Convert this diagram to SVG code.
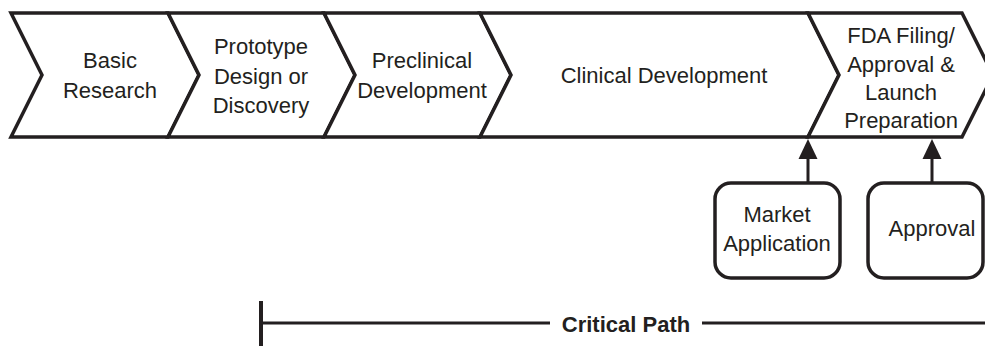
<svg xmlns="http://www.w3.org/2000/svg" width="985" height="346" viewBox="0 0 985 346">
<defs>
<style>
.shape{fill:#fff;stroke:#231f20;stroke-width:3.5;stroke-linejoin:miter}
.t{font-family:"Liberation Sans",Arial,sans-serif;font-size:22px;fill:#231f20;text-anchor:middle}
.b{font-weight:bold}
.ln{stroke:#231f20;stroke-width:3;fill:none}
.head{fill:#231f20}
</style>
</defs>
<rect width="985" height="346" fill="#fff"/>
<g id="basic-research">
<polygon class="shape" points="11,13 168,13 199,75 168,137 11,137 42,75"/>
<text class="t" x="110" y="68">Basic</text>
<text class="t" x="110" y="98">Research</text>
</g>
<g id="prototype">
<polygon class="shape" points="168,13 324,13 355,75 324,137 168,137 199,75"/>
<text class="t" x="261" y="54">Prototype</text>
<text class="t" x="261" y="84">Design or</text>
<text class="t" x="261" y="113">Discovery</text>
</g>
<g id="preclinical">
<polygon class="shape" points="324,13 480,13 511,75 480,137 324,137 355,75"/>
<text class="t" x="422" y="68">Preclinical</text>
<text class="t" x="422" y="98">Development</text>
</g>
<g id="clinical">
<polygon class="shape" points="480,13 808,13 839,75 808,137 480,137 511,75"/>
<text class="t" x="664" y="83">Clinical Development</text>
</g>
<g id="fda-filing">
<polygon class="shape" points="808,13 962,13 993,75 962,137 808,137 839,75"/>
<text class="t" x="901" y="43">FDA Filing/</text>
<text class="t" x="901" y="72">Approval &amp;</text>
<text class="t" x="901" y="100">Launch</text>
<text class="t" x="901" y="128">Preparation</text>
</g>
<g id="market-application">
<rect class="shape" x="715" y="183" width="125" height="95" rx="16"/>
<text class="t" x="777" y="222">Market</text>
<text class="t" x="777" y="251">Application</text>
</g>
<g id="approval">
<rect class="shape" x="868" y="183" width="115" height="95" rx="16"/>
<text class="t" x="932" y="236">Approval</text>
</g>
<g id="connectors">
<line class="ln" x1="808" y1="183" x2="808" y2="155"/>
<polygon class="head" points="808,139 798.5,159 817.5,159"/>
<line class="ln" x1="932" y1="183" x2="932" y2="155"/>
<polygon class="head" points="932,139 922.5,159 941.5,159"/>
</g>
<g id="critical-path">
<line stroke="#231f20" stroke-width="4" x1="261" y1="301" x2="261" y2="346"/>
<line class="ln" x1="261" y1="323" x2="550" y2="323"/>
<line class="ln" x1="702" y1="323" x2="985" y2="323"/>
<text class="t b" x="626" y="332">Critical Path</text>
</g>
</svg>
